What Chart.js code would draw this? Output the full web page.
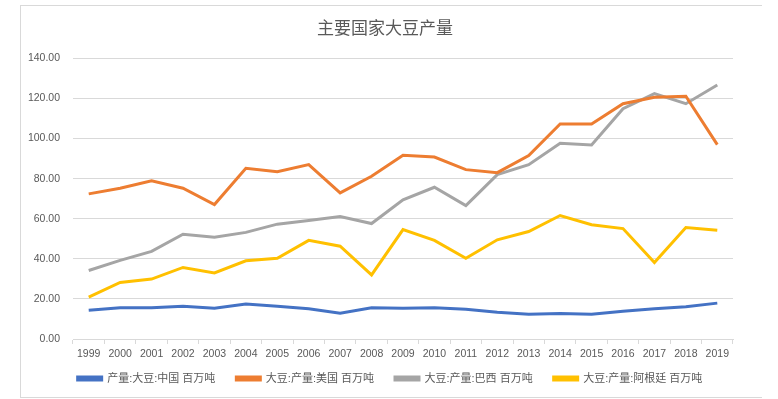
<!DOCTYPE html>
<html>
<head>
<meta charset="utf-8">
<title>主要国家大豆产量</title>
<script src="https://cdn.jsdelivr.net/npm/chart.js@4/dist/chart.umd.min.js"></script>
<style>
    body { margin: 0; background: #fff; }
    #frame {
        position: absolute; left: 20px; top: 5px; width: 741px; height: 391px;
        border-left: 1px solid #d9d9d9; border-top: 1px solid #d9d9d9; border-bottom: 1px solid #d9d9d9;
    }
    #chartContainer { position: absolute; left: 21px; top: 6px; width: 732px; height: 391px; }
</style>
</head>
<body>
<div id="frame"></div>
<div id="chartContainer"><canvas id="myChart"></canvas></div>
<script>
//
// Data
//

var years = ['1999', '2000', '2001', '2002', '2003', '2004', '2005', '2006', '2007', '2008', '2009',
    '2010', '2011', '2012', '2013', '2014', '2015', '2016', '2017', '2018', '2019'];

var china = [14.3, 15.6, 15.6, 16.4, 15.3, 17.4, 16.4, 15.1, 12.9, 15.6, 15.3,
    15.6, 14.8, 13.3, 12.4, 12.7, 12.4, 13.8, 15.1, 16.1, 17.9];
var usa = [72.4, 75.2, 78.9, 75.2, 67.1, 85.2, 83.5, 87.0, 72.9, 81.2, 91.7,
    90.8, 84.5, 83.0, 91.5, 107.3, 107.3, 117.4, 120.6, 121.1, 97.0];
var brazil = [34.2, 39.2, 43.7, 52.3, 50.8, 53.2, 57.3, 59.1, 61.1, 57.6, 69.4,
    75.7, 66.6, 82.0, 87.0, 97.7, 96.8, 114.9, 122.4, 117.4, 126.7];
var argentina = [20.9, 28.2, 29.9, 35.7, 33.0, 39.0, 40.3, 49.2, 46.3, 32.0, 54.6,
    49.2, 40.3, 49.5, 53.6, 61.6, 57.0, 55.1, 38.2, 55.6, 54.3];

var seriesNames = ['产量:大豆:中国 百万吨', '大豆:产量:美国 百万吨', '大豆:产量:巴西 百万吨', '大豆:产量:阿根廷 百万吨'];
var seriesColors = ['#4472c4', '#ed7d31', '#a5a5a5', '#ffc000'];

var yTicks = [0, 20, 40, 60, 80, 100, 120, 140];

//
// Chart
//

var textColor = '#595959';
var gridColor = '#d9d9d9';
var fontFamily = '"Liberation Sans", "Noto Sans CJK SC", sans-serif';

function makeDataset(index, values) {
    return {
        label: seriesNames[index],
        data: values,
        borderColor: seriesColors[index],
        backgroundColor: seriesColors[index],
        borderWidth: 3,
        pointRadius: 0,
        tension: 0
    };
}

// Excel centres title and legend on the whole chart box, not on the plot,
// so nudge them a bit after the layout is done
var nudgeBoxes = {
    id: 'nudgeBoxes',
    afterLayout: function (chart) {
        chart.titleBlock.left += 8;
        chart.titleBlock.right += 8;
        chart.legend.left += 13;
        chart.legend.right += 13;
        chart.legend.top -= 9;
        chart.legend.bottom -= 9;
    }
};

var ctx = document.querySelector('#myChart').getContext('2d');
var chart = new Chart(ctx, {
    type: 'line',
    data: {
        labels: years,
        datasets: [
            makeDataset(0, china),
            makeDataset(1, usa),
            makeDataset(2, brazil),
            makeDataset(3, argentina)
        ]
    },
    plugins: [nudgeBoxes],
    options: {
        responsive: true,
        maintainAspectRatio: false,
        animation: false,
        devicePixelRatio: 1,
        layout: { padding: { left: 0, right: 20, top: 0, bottom: -6 } },
        plugins: {
            title: {
                display: true,
                text: '主要国家大豆产量',
                color: textColor,
                font: { family: '"Noto Sans CJK SC", sans-serif', size: 17, weight: 'normal' },
                padding: { top: 11, bottom: 21 }
            },
            legend: {
                position: 'bottom',
                labels: {
                    color: textColor,
                    font: { family: fontFamily, size: 11 },
                    boxWidth: 24,
                    boxHeight: 3,
                    padding: 21
                }
            },
            tooltip: { enabled: false }
        },
        scales: {
            x: {
                offset: true,
                grid: { offset: true, drawOnChartArea: false, drawTicks: true, tickLength: 5, color: gridColor },
                border: { color: gridColor },
                ticks: { color: textColor, font: { family: fontFamily, size: 10.5 }, padding: 4, maxRotation: 0, autoSkip: false },
                afterFit: function (scale) { scale.height = 22; }
            },
            y: {
                min: yTicks[0],
                max: yTicks[yTicks.length - 1],
                grid: { color: gridColor, drawTicks: false },
                border: { display: false },
                ticks: {
                    stepSize: yTicks[1] - yTicks[0],
                    color: textColor,
                    font: { family: fontFamily, size: 10.5 },
                    padding: 13,
                    callback: function (value) { return value.toFixed(2); }
                },
                afterFit: function (scale) { scale.width = 52; }
            }
        }
    }
});
</script>
</body>
</html>
